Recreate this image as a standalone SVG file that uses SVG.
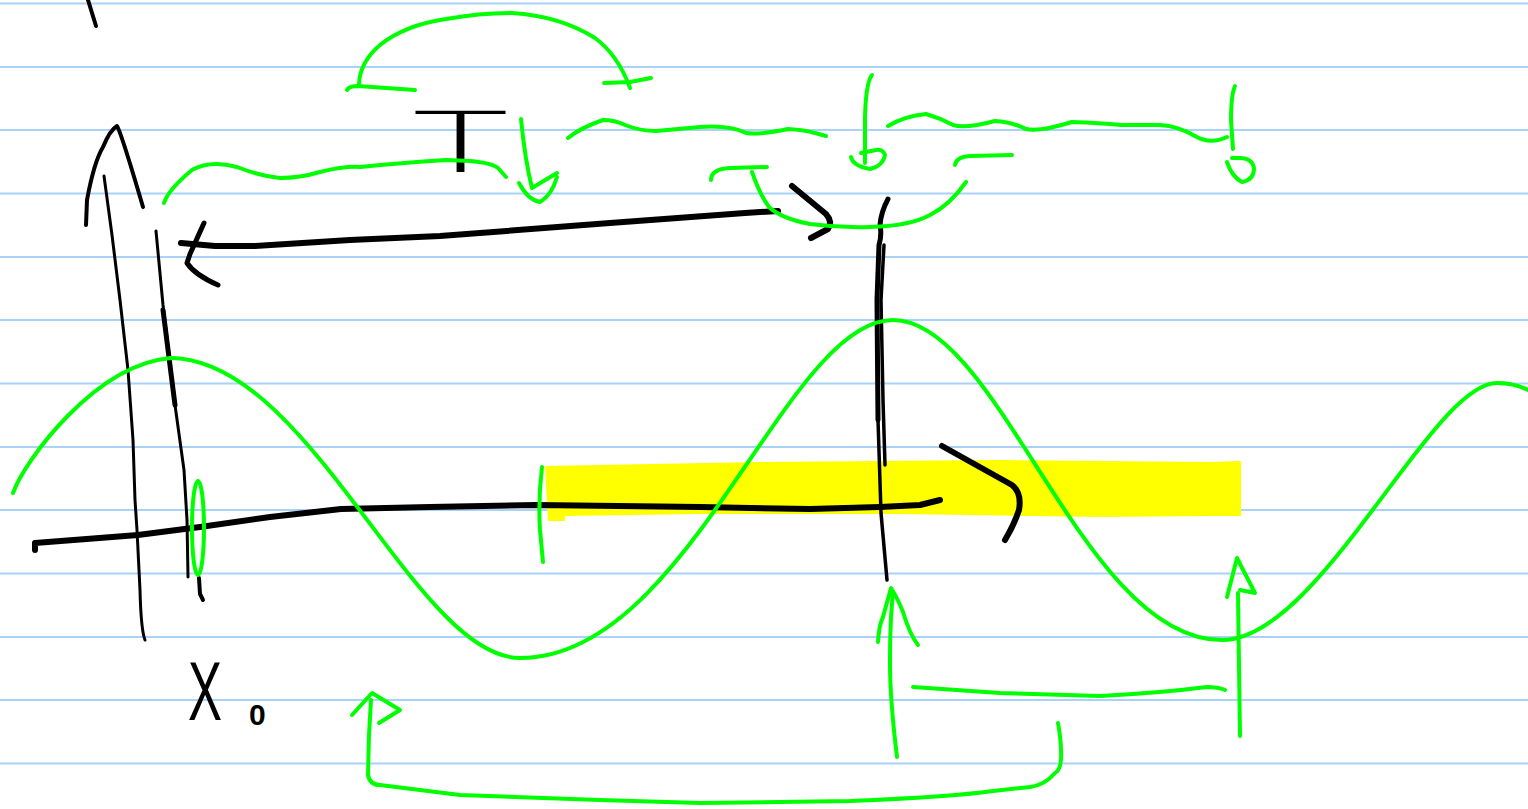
<svg xmlns="http://www.w3.org/2000/svg" width="1528" height="809" viewBox="0 0 1528 809">
<style>
.rule{stroke:#a8d2f7;stroke-width:2;fill:none}
.k{stroke:#000;fill:none;stroke-linecap:round;stroke-linejoin:round}
.g{stroke:#00ff00;fill:none;stroke-width:4;stroke-linecap:round;stroke-linejoin:round}
.t{font-family:"Liberation Sans",Arial,sans-serif;fill:#000}
.tl{font-family:"DejaVu Sans","Liberation Sans",sans-serif;font-weight:200;fill:#000}
</style>
<rect width="1528" height="809" fill="#fff"/>
<g id="paper">
<path class="rule" d="M0,3.5H1528M0,67H1528M0,130H1528M0,193.5H1528M0,257H1528M0,320H1528M0,383.5H1528M0,447H1528M0,510H1528M0,573.5H1528M0,637H1528M0,700H1528M0,763.5H1528"/>
</g>
<g id="highlight">
<path fill="#ffff00" d="M545,466 L760,462 L1000,460 L1210,462 L1241,461 L1241,516 L1210,516 L1100,517 L900,514 L700,514 L565,516 L565,521 L548,521 Z"/>
</g>
<g id="black-strokes">
<path class="k" stroke-width="4" d="M88,0 L96,26"/>
<path class="k" stroke-width="4" d="M86,225 L87,200 Q94,162 103,147 Q110,130 117,126 Q121,132 143,207"/>
<path class="k" stroke-width="3" d="M104,176 L112,235 L120,300 L128,370 L133,440 L135,500 L137,530 L140,590 Q141,630 145,640"/>
<path class="k" stroke-width="3" d="M156,231 L163,305 L175,405 L184,470 L187,520 L188,577"/>
<path class="k" stroke-width="5" d="M163,310 L175,405"/>
<path class="k" stroke-width="4" d="M199,578 L200,594 L203,600"/>
<path class="k" stroke-width="6" d="M181,243 L215,246 L255,246 L350,240 L440,236 L610,223 L745,213 L778,211"/>
<path class="k" stroke-width="5" d="M204,223 L190,254 L187,263 Q195,275 218,285"/>
<path class="k" stroke-width="6" d="M792,186 L826,214 Q833,222 828,229 L811,238"/>
<path class="k" stroke-width="5" d="M888,199 Q881,212 880,225 Q882,235 879,245 L877,300 L878,420"/>
<path class="k" stroke-width="3.5" d="M884,245 L881,300 L883,400 L885,465"/>
<path class="k" stroke-width="3.5" d="M878,420 L881,513 L887,580"/>
<path class="k" stroke-width="6" d="M35,550 L35,543 L138,535 L200,527 L270,517 L341,509 L430,507 L536,505 L700,507 L810,509 L880,507 L920,505 L940,500"/>
<path class="k" stroke-width="6" d="M942,446 L1012,485 Q1022,493 1019,510 Q1014,525 1005,540"/>
</g>
<g id="label-T"><text class="tl" x="412" y="172" font-size="84" textLength="97" lengthAdjust="spacingAndGlyphs">T</text></g>
<g id="label-X0"><text class="t" x="188" y="720" font-size="84" textLength="34" lengthAdjust="spacingAndGlyphs">X</text><text class="t" x="249" y="725" font-size="30" font-weight="bold">0</text></g>
<g id="green-strokes">
<path class="g" d="M347,90 Q349,86 358,86 L415,90"/>
<path class="g" d="M359,84 Q360,62 380,45 Q405,25 446,19 Q480,13 512,13 Q560,16 595,38 Q618,55 630,88"/>
<path class="g" d="M604,83 L630,82 L651,78"/>
<path class="g" d="M164,203 Q168,190 192,170 Q210,160 237,167 Q260,176 280,178 Q300,178 320,172 Q345,166 360,167 Q400,163 446,160 L470,161 Q492,163 498,168 L506,177"/>
<path class="g" d="M521,119 Q525,160 532,188 L557,173"/>
<path class="g" d="M519,183 Q528,200 540,202 Q552,195 557,177"/>
<path class="g" d="M568,138 Q580,128 603,120 Q615,120 625,125 Q640,131 656,131 L700,127 Q730,125 746,133 Q760,135 788,129 Q805,130 815,133 L826,136"/>
<path class="g" d="M872,75 Q866,82 865,117 L865,163"/>
<path class="g" d="M851,157 Q853,166 870,169 Q883,166 885,155 Q883,149 876,150 L861,153"/>
<path class="g" d="M888,126 Q905,116 926,114 Q940,118 953,125 Q965,129 995,121 Q1012,122 1026,129 Q1040,132 1072,122 Q1100,123 1121,125 L1160,125 Q1178,126 1195,136 Q1210,145 1227,137"/>
<path class="g" d="M1235,86 Q1231,95 1231,120 L1233,149"/>
<path class="g" d="M1227,162 Q1232,177 1242,182 Q1254,180 1254,168 Q1252,158 1240,158 L1232,158"/>
<path class="g" d="M711,180 Q711,169 730,168 L767,167"/>
<path class="g" d="M752,172 Q760,195 769,207 Q780,218 810,224 Q840,228 870,227 Q910,226 930,215 Q950,205 966,182"/>
<path class="g" d="M955,165 Q956,157 970,156 L1012,155"/>
<path class="g" d="M13,493 C25,460 95,365 170,358 C310,358 415,658 520,658 C690,658 785,320 893,320 C1000,320 1082,640 1222,640 C1320,640 1431,383 1497,383 C1512,383 1520,386 1528,390"/>
<ellipse class="g" cx="198" cy="528" rx="6" ry="47"/>
<path class="g" stroke-width="6.5" d="M542,467 Q538,500 540,530 L543,562"/>
<path class="g" d="M897,757 Q890,700 890,663 Q890,620 893,593"/>
<path class="g" d="M878,642 Q879,625 883,617 L891,588 Q897,597 903,612 Q910,635 918,645"/>
<path class="g" d="M913,687 L1000,693 L1100,696 Q1160,693 1207,687 Q1218,687 1225,690"/>
<path class="g" d="M1240,736 L1238,593"/>
<path class="g" d="M1227,597 L1237,558 L1255,593 L1240,590"/>
<path class="g" d="M1058,723 Q1061,740 1061,750 Q1062,770 1055,773 Q1045,785 1030,787 L993,791 Q950,797 850,801 L700,803 L600,800 L460,795 L380,785 Q370,785 368,775 L369,735 L371,700"/>
<path class="g" d="M352,715 L372,693 L400,710 L379,723"/>
</g>
</svg>
